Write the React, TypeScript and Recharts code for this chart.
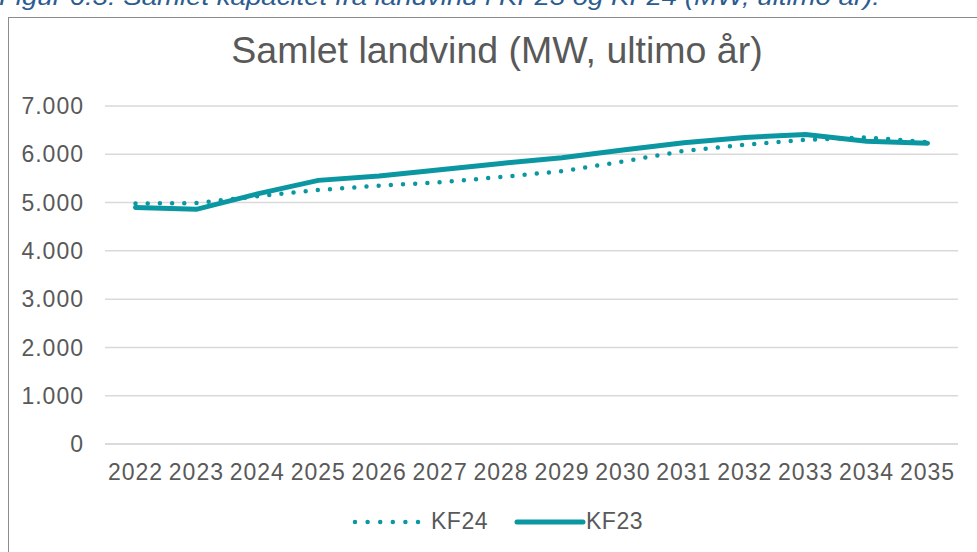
import { LineChart, Line, XAxis, YAxis, CartesianGrid, Legend } from 'recharts'

const years = ['2022', '2023', '2024', '2025', '2026', '2027', '2028', '2029', '2030', '2031', '2032', '2033', '2034', '2035']
const kf24 = [4980, 4990, 5130, 5260, 5350, 5420, 5530, 5650, 5850, 6070, 6200, 6300, 6350, 6250]
const kf23 = [4900, 4860, 5180, 5460, 5550, 5680, 5810, 5930, 6090, 6240, 6350, 6410, 6270, 6230]
const yTicks = [0, 1000, 2000, 3000, 4000, 5000, 6000, 7000]

const TEAL = '#0A97A2'
const TEXT = '#595959'
const FONT = '"Liberation Sans", Arial, sans-serif'

const data = years.map((y, i) => ({ year: y, KF24: kf24[i], KF23: kf23[i] }))

const fmt = (v: number) => String(v).replace(/\B(?=(\d{3})+(?!\d))/g, '.')

function LegendContent() {
  return (
    <div style={{ display: 'flex', justifyContent: 'center', alignItems: 'center', paddingLeft: 22, fontFamily: FONT, fontSize: 23, letterSpacing: 0.5, color: TEXT }}>
      <svg width={70} height={10} style={{ marginRight: 9 }}>
        <line x1={3} y1={5} x2={68} y2={5} stroke={TEAL} strokeWidth={4.5} strokeLinecap="round" strokeDasharray="0 12.6" />
      </svg>
      <span style={{ marginRight: 26 }}>KF24</span>
      <svg width={72} height={10}>
        <line x1={3} y1={5} x2={69} y2={5} stroke={TEAL} strokeWidth={5} strokeLinecap="round" />
      </svg>
      <span>KF23</span>
    </div>
  )
}

export default function App() {
  return (
    <div style={{ position: 'fixed', left: 0, top: 0, width: 977, height: 552, overflow: 'hidden', background: '#fff' }}>
      <div style={{ position: 'absolute', left: -1, top: -16, fontFamily: FONT, fontSize: 23, fontStyle: 'italic', color: '#2B5C8F', whiteSpace: 'nowrap', transform: 'scaleX(1.2)', transformOrigin: 'left top' }}>
        Figur 6.3: Samlet kapacitet fra landvind i KF23 og KF24 (MW, ultimo år).
      </div>
      <div style={{ position: 'absolute', left: 8, top: 17, width: 1000, height: 600, border: '1.5px solid #8c8c8c' }} />
      <div style={{ position: 'absolute', left: 0, top: 29, width: 994, textAlign: 'center', fontFamily: FONT, fontSize: 37.5, color: TEXT }}>
        Samlet landvind (MW, ultimo år)
      </div>
      <div style={{ position: 'absolute', left: 0, top: 0 }}>
        <LineChart width={977} height={552} data={data} margin={{ top: 106, right: 19, bottom: 14, left: 15 }}>
          <CartesianGrid vertical={false} stroke="#d9d9d9" strokeWidth={1.5} />
          <XAxis
            dataKey="year"
            padding={{ left: 30.5, right: 30.5 }}
            axisLine={{ stroke: '#d9d9d9', strokeWidth: 1.5 }}
            tickLine={false}
            tickSize={0}
            tickMargin={20}
            height={64}
            interval={0}
            tick={{ fill: TEXT, fontSize: 23, fontFamily: FONT, letterSpacing: 1 }}
          />
          <YAxis
            domain={[0, 7000]}
            ticks={yTicks}
            tickFormatter={fmt}
            axisLine={false}
            tickLine={false}
            tickSize={0}
            tickMargin={21}
            width={90}
            tick={{ fill: TEXT, fontSize: 23, fontFamily: FONT, letterSpacing: 1 }}
          />
          <Legend verticalAlign="bottom" height={30} content={<LegendContent />} />
          <Line
            dataKey="KF24"
            stroke={TEAL}
            strokeWidth={4.5}
            strokeDasharray="0 12.2"
            strokeLinecap="round"
            dot={false}
            activeDot={false}
            isAnimationActive={false}
          />
          <Line
            dataKey="KF23"
            stroke={TEAL}
            strokeWidth={5}
            strokeLinecap="round"
            dot={false}
            activeDot={false}
            isAnimationActive={false}
          />
        </LineChart>
      </div>
    </div>
  )
}
